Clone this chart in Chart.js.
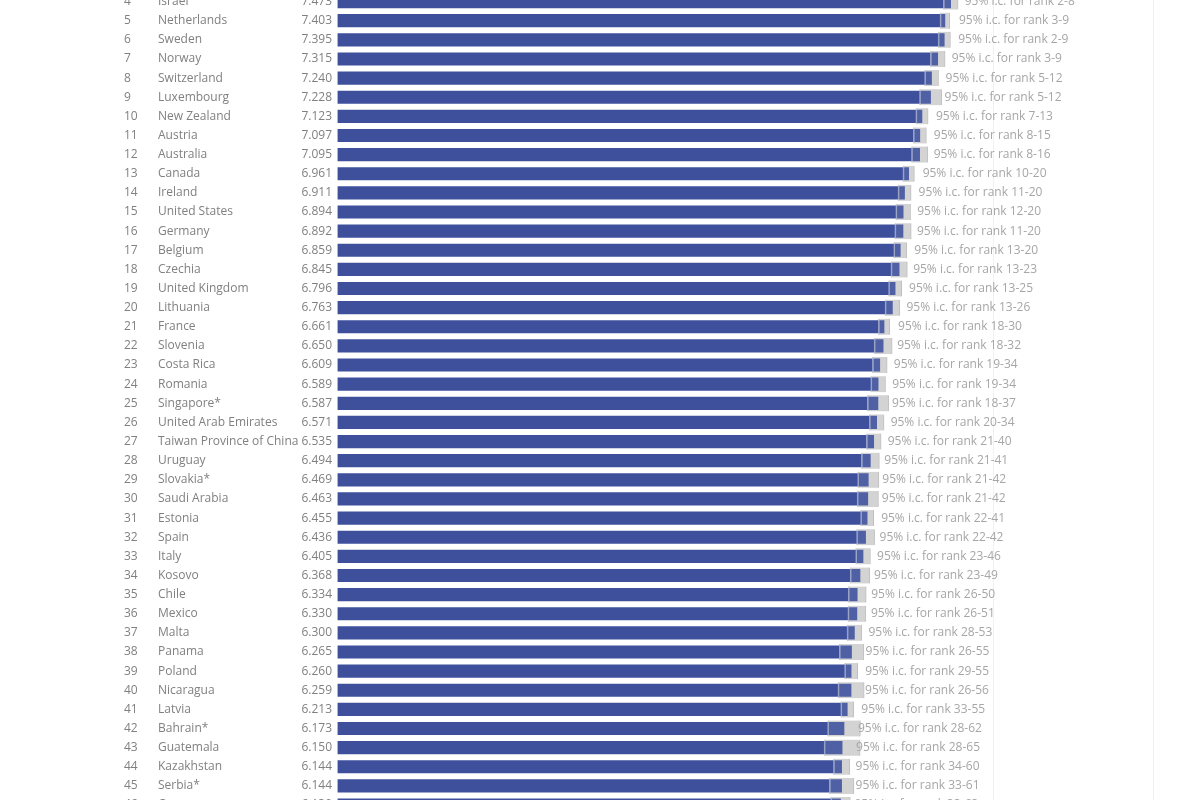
<!DOCTYPE html>
<html>
<head>
<meta charset="utf-8">
<script src="https://cdn.jsdelivr.net/npm/chart.js@4.4.1/dist/chart.umd.min.js"></script>
<style>
  html, body { margin: 0; padding: 0; background: #ffffff; overflow: hidden; }
  body { width: 1200px; height: 800px; position: relative; }
  .vline { position: absolute; top: 0; height: 800px; width: 1px; background: #f1f1f1; }
  #wrap { position: absolute; left: 0; top: -8.4px; width: 1200px; height: 822.6px; }
</style>
</head>
<body>
<div class="vline" style="left:993px"></div>
<div class="vline" style="left:1153px"></div>
<div id="wrap"><canvas id="chart"></canvas></div>
<script>
const ranks = [4, 5, 6, 7, 8, 9, 10, 11, 12, 13, 14, 15, 16, 17, 18, 19, 20, 21, 22, 23, 24, 25,
  26, 27, 28, 29, 30, 31, 32, 33, 34, 35, 36, 37, 38, 39, 40, 41, 42, 43, 44, 45, 46];

const countries = ["Israel", "Netherlands", "Sweden", "Norway", "Switzerland", "Luxembourg",
  "New Zealand", "Austria", "Australia", "Canada", "Ireland", "United States", "Germany",
  "Belgium", "Czechia", "United Kingdom", "Lithuania", "France", "Slovenia", "Costa Rica",
  "Romania", "Singapore*", "United Arab Emirates", "Taiwan Province of China", "Uruguay",
  "Slovakia*", "Saudi Arabia", "Estonia", "Spain", "Italy", "Kosovo", "Chile", "Mexico",
  "Malta", "Panama", "Poland", "Nicaragua", "Latvia", "Bahrain*", "Guatemala", "Kazakhstan",
  "Serbia*", "Cyprus"];

const scores = [7.473, 7.403, 7.395, 7.315, 7.240, 7.228, 7.123, 7.097, 7.095, 6.961, 6.911,
  6.894, 6.892, 6.859, 6.845, 6.796, 6.763, 6.661, 6.650, 6.609, 6.589, 6.587, 6.571, 6.535,
  6.494, 6.469, 6.463, 6.455, 6.436, 6.405, 6.368, 6.334, 6.330, 6.300, 6.265, 6.260, 6.259,
  6.213, 6.173, 6.150, 6.144, 6.144, 6.130];

// 95% confidence interval of the score
const ciLow = [7.383, 7.343, 7.320, 7.225, 7.155, 7.093, 7.048, 7.017, 6.995, 6.891, 6.831,
  6.804, 6.792, 6.779, 6.745, 6.716, 6.673, 6.591, 6.540, 6.519, 6.499, 6.457, 6.481, 6.445,
  6.384, 6.339, 6.333, 6.375, 6.326, 6.315, 6.248, 6.224, 6.220, 6.210, 6.115, 6.180, 6.099,
  6.133, 5.973, 5.930, 6.044, 5.994, 6.010];
const ciHigh = [7.563, 7.463, 7.470, 7.405, 7.325, 7.363, 7.198, 7.177, 7.195, 7.031, 6.991,
  6.984, 6.992, 6.939, 6.945, 6.876, 6.853, 6.731, 6.760, 6.699, 6.679, 6.717, 6.661, 6.625,
  6.604, 6.599, 6.593, 6.535, 6.546, 6.495, 6.488, 6.444, 6.440, 6.390, 6.415, 6.340, 6.419,
  6.293, 6.373, 6.370, 6.244, 6.294, 6.250];

// rank range covered by the interval
const rankLow = [2, 3, 2, 3, 5, 5, 7, 8, 8, 10, 11, 12, 11, 13, 13, 13, 13, 18, 18, 19, 19, 18,
  20, 21, 21, 21, 21, 22, 22, 23, 23, 26, 26, 28, 26, 29, 26, 33, 28, 28, 34, 33, 33];
const rankHigh = [8, 9, 9, 9, 12, 12, 13, 15, 16, 20, 20, 20, 20, 20, 23, 25, 26, 30, 32, 34, 34,
  37, 34, 40, 41, 42, 42, 41, 42, 46, 49, 50, 51, 53, 55, 55, 56, 55, 62, 65, 60, 61, 63];

const ciPairs = ciLow.map((lo, i) => [lo, ciHigh[i]]);

const labelPlugin = {
  id: "rowLabels",
  afterDatasetsDraw(chart) {
    const ctx = chart.ctx;
    const y = chart.scales.y;
    const x = chart.scales.x;
    ctx.save();
    ctx.font = "12px 'Open Sans'";
    ctx.textBaseline = "middle";
    countries.forEach((name, i) => {
      const py = y.getPixelForValue(i);
      ctx.fillStyle = "#808080";
      ctx.textAlign = "left";
      ctx.fillText(String(ranks[i]), 124, py);
      ctx.fillText(name, 158, py);
      ctx.textAlign = "right";
      ctx.fillText(scores[i].toFixed(3), 332, py);
      ctx.textAlign = "left";
      ctx.fillStyle = "#a6a6a6";
      ctx.fillText("95% i.c. for rank " + rankLow[i] + "-" + rankHigh[i],
        x.getPixelForValue(scores[i]) + 14, py);
    });
    ctx.restore();
  }
};

new Chart(document.getElementById("chart"), {
  type: "bar",
  data: {
    labels: countries,
    datasets: [
      {
        // light veil of the interval over the bar, with a mark at the lower bound
        data: ciPairs,
        backgroundColor: "rgba(215,215,220,0.12)",
        borderColor: "rgba(190,195,215,0.7)",
        borderWidth: { left: 1, right: 0, top: 0, bottom: 0 },
        borderSkipped: false,
        barThickness: 16,
        grouped: false,
        order: 0
      },
      {
        data: scores,
        backgroundColor: "#3e509c",
        barThickness: 12.5,
        grouped: false,
        order: 1
      },
      {
        data: ciPairs,
        backgroundColor: "#d3d3d3",
        borderColor: "#bdbdbd",
        borderWidth: { left: 0, right: 1, top: 0, bottom: 0 },
        borderSkipped: false,
        barThickness: 16,
        grouped: false,
        order: 2
      }
    ]
  },
  options: {
    indexAxis: "y",
    responsive: true,
    maintainAspectRatio: false,
    animation: false,
    layout: { padding: { left: 337.5, right: 42, top: 0, bottom: 0 } },
    scales: {
      x: { display: false, min: 0, max: 10 },
      y: { display: false }
    },
    plugins: {
      legend: { display: false },
      tooltip: { enabled: false }
    }
  },
  plugins: [labelPlugin]
});
</script>
</body>
</html>
